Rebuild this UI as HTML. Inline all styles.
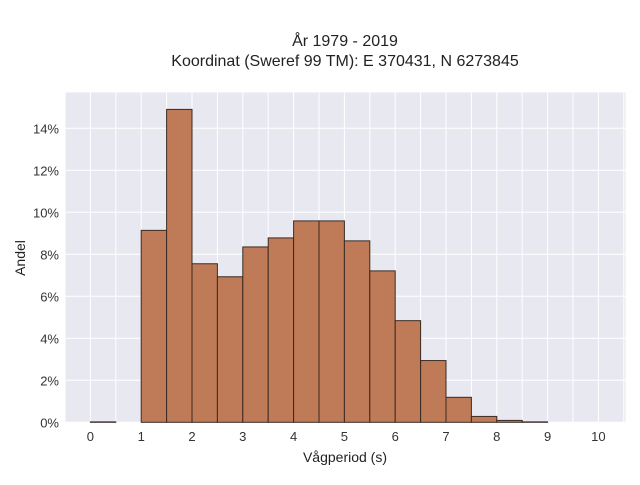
<!DOCTYPE html>
<html><head><meta charset="utf-8"><style>
body{margin:0;background:#fff;font-family:"Liberation Sans",sans-serif;}
</style></head><body>
<svg id="chart" width="640" height="480" xmlns="http://www.w3.org/2000/svg" font-family="Liberation Sans, sans-serif">
<text x="345" y="46" text-anchor="middle" font-size="16" fill="#222">År 1979 - 2019</text>
<text x="345" y="66" text-anchor="middle" font-size="16" fill="#222">Koordinat (Sweref 99 TM): E 370431, N 6273845</text>
<rect x="64.5" y="92.5" width="561" height="330" fill="#e8e8f0"/>
<g id="grid"></g>
<g id="bars"></g>
<g id="ticks"></g>
<text x="345" y="462" text-anchor="middle" font-size="14" fill="#222">Vågperiod (s)</text>
<text transform="translate(25,258) rotate(-90)" text-anchor="middle" font-size="14" fill="#222">Andel</text>
</svg>
<script>
const binStarts=[0,0.5,1,1.5,2,2.5,3,3.5,4,4.5,5,5.5,6,6.5,7,7.5,8,8.5];
const shares=[0.02,0,9.14,14.9,7.55,6.93,8.35,8.78,9.59,9.59,8.64,7.21,4.84,2.94,1.19,0.28,0.09,0.02];
const xTicks=[0,1,2,3,4,5,6,7,8,9,10];
const yTicks=[0,2,4,6,8,10,12,14];
const binWidth=0.5;
const NS="http://www.w3.org/2000/svg";
const X=v=>90.4+v*50.8;
const Y=v=>422.3-v*21;
const grid=document.getElementById('grid'),bars=document.getElementById('bars'),ticks=document.getElementById('ticks');
function mk(tag,attrs,parent){const e=document.createElementNS(NS,tag);for(const k in attrs)e.setAttribute(k,attrs[k]);parent.appendChild(e);return e;}
for(let v=-0.5;v<=10.5;v+=0.5){const l=mk('line',{x1:X(v),x2:X(v),y1:92.5,y2:422.5,stroke:'#fff','stroke-width':1},grid);

}
yTicks.forEach(t=>{const l=mk('line',{x1:64.5,x2:625.5,y1:Y(t),y2:Y(t),stroke:'#fff','stroke-width':1},grid);


const tx=mk('text',{x:59,y:Y(t)+5,'text-anchor':'end','font-size':13,fill:'#333'},ticks);tx.textContent=t+'%';

});
xTicks.forEach(t=>{const tx=mk('text',{x:X(t),y:441,'text-anchor':'middle','font-size':13,fill:'#333'},ticks);tx.textContent=t;

});
binStarts.forEach((b,i)=>{const v=shares[i];if(v<=0)return;
const r=mk('rect',{x:X(b),y:Y(v),width:X(b+binWidth)-X(b),height:Y(0)-Y(v),fill:'#bf7b57',stroke:'#3a2a22','stroke-width':1},bars);

});
</script>
</body></html>
